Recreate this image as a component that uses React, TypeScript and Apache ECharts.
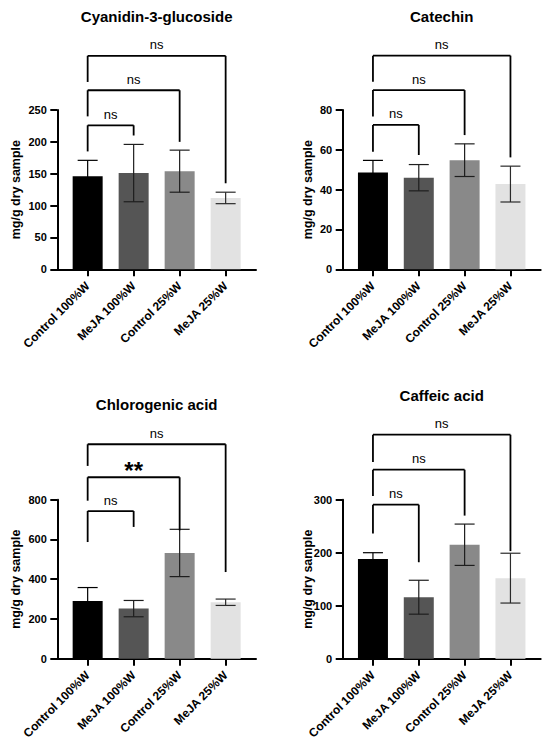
import React, { useEffect, useRef } from "react";
import * as echarts from "echarts";

const categories = ["Control 100%W", "MeJA 100%W", "Control 25%W", "MeJA 25%W"];
const barColors = ["#000000", "#555555", "#898989", "#e2e2e2"];
const whiskerColors = ["#000000", "#1e1e1e", "#1e1e1e", "#2a2a2a"];
const titles = ["Cyanidin-3-glucoside", "Catechin", "Chlorogenic acid", "Caffeic acid"];
const yAxisName = "mg/g dry sample";

const c3gMean = [146, 151, 154, 112];
const c3gSd = [25, 45, 33, 9];
const catMean = [48.6, 46, 54.8, 42.8];
const catSd = [6.1, 6.6, 8.2, 9];
const chlMean = [290, 252, 532, 284];
const chlSd = [68, 41, 119, 16];
const cafMean = [188, 116, 215, 152];
const cafSd = [12, 32, 39, 47];

const yMaxes = [250, 80, 800, 300];
const yIntervals = [50, 20, 200, 100];

const c3gBrackets = [
  [0, 1, 226, 185, 210],
  [0, 2, 281, 240, 200],
  [0, 3, 335, 294, 135],
];
const catBrackets = [
  [0, 1, 72.5, 59, 57.4],
  [0, 2, 90, 76.7, 67.4],
  [0, 3, 107.3, 94.2, 56.2],
];
const chlBrackets = [
  [0, 1, 743, 587, 663],
  [0, 2, 913, 795, 646],
  [0, 3, 1079, 970, 436],
];
const cafBrackets = [
  [0, 1, 290.6, 236, 182],
  [0, 2, 356.6, 307, 270],
  [0, 3, 422.6, 371, 203],
];
const c3gLabels = ["ns", "ns", "ns"];
const catLabels = ["ns", "ns", "ns"];
const chlLabels = ["ns", "**", "ns"];
const cafLabels = ["ns", "ns", "ns"];

const FONT = '"Liberation Sans", Arial, Helvetica, sans-serif';

const panels = [
  { mean: c3gMean, sd: c3gSd, brackets: c3gBrackets, labels: c3gLabels },
  { mean: catMean, sd: catSd, brackets: catBrackets, labels: catLabels },
  { mean: chlMean, sd: chlSd, brackets: chlBrackets, labels: chlLabels },
  { mean: cafMean, sd: cafSd, brackets: cafBrackets, labels: cafLabels },
];

const layout = [
  { left: 57.3, top: 110, width: 198.7, height: 159.3, titleY: 16, nameX: 16.2 },
  { left: 342.7, top: 110, width: 198, height: 159.3, titleY: 16, nameX: 307.8 },
  { left: 57.3, top: 499.7, width: 198.7, height: 159, titleY: 404, nameX: 16.2 },
  { left: 342.7, top: 499.7, width: 198, height: 159, titleY: 395.3, nameX: 307.8 },
];

function buildOption() {
  const grid: any[] = [];
  const xAxis: any[] = [];
  const yAxis: any[] = [];
  const series: any[] = [];
  const graphic: any[] = [];

  panels.forEach((p, i) => {
    const L = layout[i];
    grid.push({
      left: L.left,
      top: L.top,
      width: L.width,
      height: L.height,
      containLabel: false,
      outerBoundsMode: "none",
    });
    xAxis.push({
      type: "value",
      gridIndex: i,
      min: -0.66,
      max: 3.66,
      axisLine: { show: true, onZero: false, lineStyle: { color: "#000", width: 2 } },
      axisTick: {
        show: true,
        customValues: [0, 1, 2, 3],
        length: 7,
        lineStyle: { color: "#000", width: 2 },
      },
      splitLine: { show: false },
      axisLabel: {
        customValues: [0, 1, 2, 3],
        formatter: (v: number) => categories[Math.round(v)] ?? "",
        rotate: 45,
        margin: 14.5,
        color: "#000",
        fontWeight: "bold",
        fontSize: 12,
        fontFamily: FONT,
      },
    });
    yAxis.push({
      type: "value",
      gridIndex: i,
      min: 0,
      max: yMaxes[i],
      interval: yIntervals[i],
      axisLine: { show: true, onZero: false, lineStyle: { color: "#000", width: 2 } },
      axisTick: { show: true, length: 7, lineStyle: { color: "#000", width: 2 } },
      splitLine: { show: false },
      axisLabel: {
        color: "#000",
        fontWeight: "bold",
        fontSize: 11,
        fontFamily: FONT,
        margin: 10.5,
      },
    });

    series.push({
      type: "bar",
      xAxisIndex: i,
      yAxisIndex: i,
      barWidth: 30,
      z: 2,
      data: p.mean.map((v, j) => ({ value: [j, v], itemStyle: { color: barColors[j] } })),
    });

    series.push({
      type: "custom",
      xAxisIndex: i,
      yAxisIndex: i,
      z: 3,
      clip: false,
      data: p.mean.map((v, j) => [j, v, p.sd[j]]),
      renderItem: (params: any, api: any) => {
        const x = api.value(0);
        const m = api.value(1);
        const s = api.value(2);
        const hi = api.coord([x, m + s]);
        const lo = api.coord([x, m - s]);
        const st = { stroke: whiskerColors[params.dataIndex], lineWidth: 1.2 };
        return {
          type: "group",
          children: [
            { type: "line", shape: { x1: hi[0], y1: hi[1], x2: lo[0], y2: lo[1] }, style: st },
            { type: "line", shape: { x1: hi[0] - 10, y1: hi[1], x2: hi[0] + 10, y2: hi[1] }, style: st },
            { type: "line", shape: { x1: lo[0] - 10, y1: lo[1], x2: lo[0] + 10, y2: lo[1] }, style: st },
          ],
        };
      },
    });

    series.push({
      type: "custom",
      xAxisIndex: i,
      yAxisIndex: i,
      z: 4,
      clip: false,
      data: p.brackets,
      renderItem: (params: any, api: any) => {
        const b = p.brackets[params.dataIndex];
        const le = api.coord([b[0], b[3]]);
        const t1 = api.coord([b[0], b[2]]);
        const t2 = api.coord([b[1], b[2]]);
        const re = api.coord([b[1], b[4]]);
        const label = p.labels[params.dataIndex];
        const isStar = label.indexOf("*") >= 0;
        const st = { stroke: "#000", lineWidth: 1.8 };
        return {
          type: "group",
          children: [
            { type: "line", shape: { x1: le[0], y1: le[1], x2: t1[0], y2: t1[1] }, style: st },
            { type: "line", shape: { x1: t1[0], y1: t1[1], x2: t2[0], y2: t2[1] }, style: st },
            { type: "line", shape: { x1: t2[0], y1: t2[1], x2: re[0], y2: re[1] }, style: st },
            {
              type: "text",
              x: (t1[0] + t2[0]) / 2,
              y: t1[1] - (isStar ? 7 : 11),
              style: {
                text: label,
                fill: "#000",
                font: isStar ? `bold 24px ${FONT}` : `13px ${FONT}`,
                align: "center",
                verticalAlign: "middle",
                textAlign: "center",
                textVerticalAlign: "middle",
              },
            },
          ],
        };
      },
    });

    graphic.push({
      type: "text",
      x: L.left + L.width / 2,
      y: L.titleY,
      style: {
        text: titles[i],
        fill: "#000",
        font: `bold 15px ${FONT}`,
        align: "center",
        verticalAlign: "middle",
        textAlign: "center",
        textVerticalAlign: "middle",
      },
    });
    graphic.push({
      type: "text",
      x: L.nameX,
      y: L.top + L.height / 2,
      rotation: Math.PI / 2,
      style: {
        text: yAxisName,
        fill: "#000",
        font: `bold 12.5px ${FONT}`,
        align: "center",
        verticalAlign: "middle",
        textAlign: "center",
        textVerticalAlign: "middle",
      },
    });
  });

  return {
    animation: false,
    backgroundColor: "#ffffff",
    grid,
    xAxis,
    yAxis,
    series,
    graphic,
  };
}

export default function App() {
  const ref = useRef<HTMLDivElement>(null);
  useEffect(() => {
    document.body.style.margin = "0";
    if (!ref.current) return;
    const chart = echarts.init(ref.current, undefined, { renderer: "svg" });
    chart.setOption(buildOption() as any);
    return () => chart.dispose();
  }, []);
  return <div ref={ref} style={{ width: 550, height: 744 }} />;
}
